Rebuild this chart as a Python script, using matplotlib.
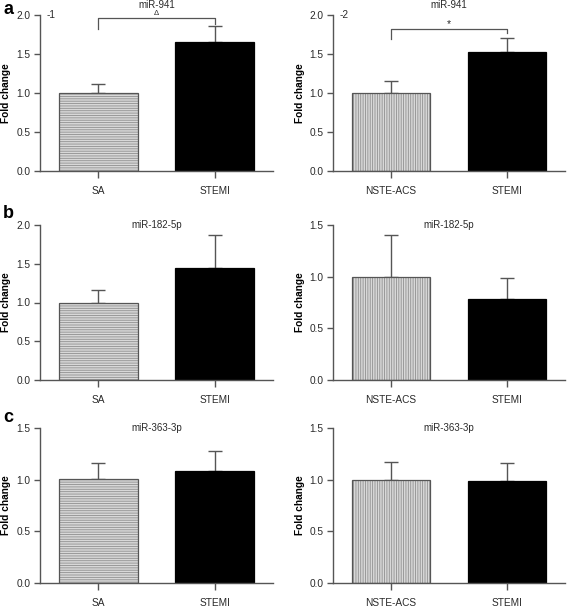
import matplotlib
matplotlib.use("Agg")
import matplotlib.pyplot as plt
import numpy as np

plt.rcParams['font.family'] = ['Liberation Sans', 'DejaVu Sans']
plt.rcParams['hatch.linewidth'] = 0.6

# ---- data ----
titles = ["miR-941", "miR-941", "miR-182-5p", "miR-182-5p", "miR-363-3p", "miR-363-3p"]
cats_left = ["SA", "STEMI"]
cats_right = ["NSTE-ACS", "STEMI"]
means_a1 = [1.00, 1.66]
err_a1 = [0.12, 0.20]
means_a2 = [1.00, 1.53]
err_a2 = [0.16, 0.18]
means_b1 = [1.00, 1.44]
err_b1 = [0.16, 0.43]
means_b2 = [1.00, 0.78]
err_b2 = [0.40, 0.21]
means_c1 = [1.01, 1.08]
err_c1 = [0.15, 0.20]
means_c2 = [1.00, 0.99]
err_c2 = [0.17, 0.17]
ymax_list = [2.0, 2.0, 2.0, 1.5, 1.5, 1.5]
yticks_2 = [0.0, 0.5, 1.0, 1.5, 2.0]
yticks_15 = [0.0, 0.5, 1.0, 1.5]

W, H = 567, 607
fig = plt.figure(figsize=(W / 100, H / 100), dpi=100)

def rect(l, r, t, b):
    return [l / W, 1 - b / H, (r - l) / W, (b - t) / H]

rows = [(15, 171), (225, 380), (428, 583)]
cols = [(40, 273), (333, 565)]

panels = [
    (means_a1, err_a1, cats_left),
    (means_a2, err_a2, cats_right),
    (means_b1, err_b1, cats_left),
    (means_b2, err_b2, cats_right),
    (means_c1, err_c1, cats_left),
    (means_c2, err_c2, cats_right),
]

spine_c = '#555555'
text_c = '#2a2a2a'
axes = []
for i, (means, errs, cats) in enumerate(panels):
    r, c = divmod(i, 2)
    t, b = rows[r]
    l, rr = cols[c]
    ax = fig.add_axes(rect(l, rr, t, b))
    axes.append(ax)
    x = np.arange(len(cats))
    ymax = ymax_list[i]
    # error bars (upper only)
    ax.errorbar(x, means, yerr=[np.zeros(len(errs)), errs], fmt='none',
                ecolor=spine_c, elinewidth=1.0, capsize=5, capthick=1.0, zorder=1)
    hatch = '-------' if c == 0 else '|||||||'
    ax.bar(x[0], means[0], width=0.68, color='#d8d8d8', edgecolor='#8f8f8f',
           hatch=hatch, linewidth=0, zorder=2)
    ax.bar(x[0], means[0], width=0.68, fill=False, edgecolor=spine_c,
           linewidth=0.9, zorder=3)
    ax.bar(x[1], means[1], width=0.68, color='black', edgecolor='black',
           linewidth=0.9, zorder=2)
    ax.set_xlim(-0.5, 1.5)
    ax.set_ylim(0, ymax)
    yt = yticks_2 if ymax == 2.0 else yticks_15
    ax.set_yticks(yt)
    ax.set_yticklabels([f"{v:.1f}" for v in yt])
    ax.set_xticks(x)
    ax.set_xticklabels(cats)
    for s in ['top', 'right']:
        ax.spines[s].set_visible(False)
    for s in ['left', 'bottom']:
        ax.spines[s].set_color(spine_c)
        ax.spines[s].set_linewidth(1.0)
    ax.tick_params(axis='y', direction='out', length=4, width=1.0, color=spine_c,
                   labelsize=7.3, labelcolor=text_c, pad=3)
    ax.tick_params(axis='x', direction='out', length=5, width=1.0, color=spine_c,
                   labelsize=7.3, labelcolor=text_c, pad=6)
    ax.set_ylabel("Fold change", fontsize=7.3, fontweight='bold', color='black',
                  va='center')
    ax.yaxis.set_label_coords(-33.5 / 233, 0.5)
    ax.patch.set_visible(False)
    if r == 0:
        ax.text(0.5, 1 + 10.5 / 156, titles[i], transform=ax.transAxes,
                ha='center', va='center', fontsize=7, color=text_c, clip_on=False)
    else:
        ax.text(0.5, 1.0, titles[i], transform=ax.transAxes,
                ha='center', va='center', fontsize=7, color=text_c, clip_on=False)

# significance brackets
ax = axes[0]
ax.plot([0, 0, 1, 1], [1.82, 1.96, 1.96, 1.885], color=spine_c, lw=0.9, clip_on=False)
ax.text(0.5, 2.015, "Δ", ha='center', va='center', fontsize=5.5, color=text_c)
ax.text(0.03, 1.0, "-1", transform=ax.transAxes, ha='left', va='center',
        fontsize=7.3, color=text_c)
ax = axes[1]
ax.plot([0, 0, 1, 1], [1.69, 1.82, 1.82, 1.77], color=spine_c, lw=0.9, clip_on=False)
ax.text(0.5, 1.88, "*", ha='center', va='center', fontsize=7.5, color=text_c)
ax.text(0.03, 1.0, "-2", transform=ax.transAxes, ha='left', va='center',
        fontsize=7.3, color=text_c)

# panel letters
for letter, ypix in [("a", 10), ("b", 213), ("c", 417)]:
    fig.text(8 / W, 1 - ypix / H, letter, fontsize=13, fontweight='bold',
             ha='center', va='center')

fig.savefig("out.png", dpi=100)
